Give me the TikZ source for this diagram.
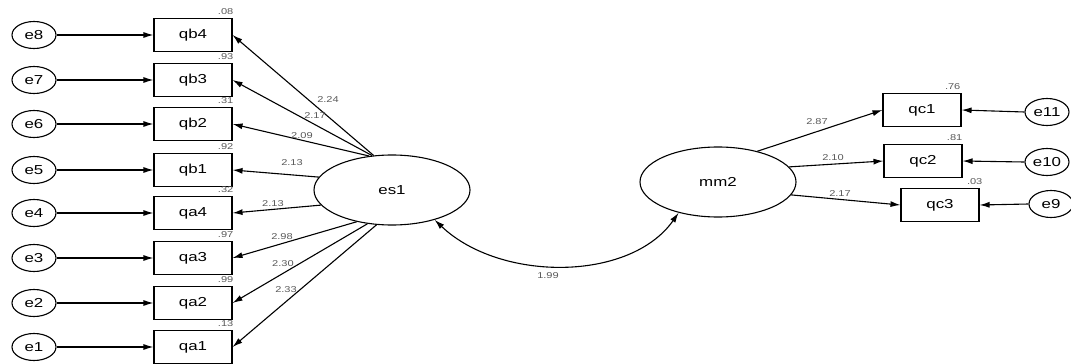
\documentclass[tikz,border=0pt]{standalone}
\usepackage{fontspec}
\setmainfont{Liberation Sans}
\newfontfamily\widesans[FakeStretch=1.3]{Liberation Sans}
\usetikzlibrary{arrows.meta,shapes.geometric}
\begin{document}
\begin{tikzpicture}[x=1pt,y=-1pt,
  obs/.style={draw,line width=1.1pt,minimum width=78pt,minimum height=33pt,inner sep=0pt,font=\widesans\fontsize{13}{15}\selectfont},
  err/.style={draw,ellipse,line width=1.1pt,minimum width=44pt,minimum height=27pt,inner sep=0pt,font=\widesans\fontsize{13}{15}\selectfont},
  lat/.style={draw,ellipse,line width=1.1pt,minimum width=156pt,minimum height=70pt,inner sep=0pt,font=\widesans\fontsize{13}{15}\selectfont},
  arr/.style={line width=1.1pt,-{Latex[length=10pt,width=6pt]}},
  lab/.style={font=\widesans\fontsize{8.5}{10}\selectfont,text=black!65,inner sep=0pt},
  r2/.style={font=\widesans\fontsize{8.5}{10}\selectfont,text=black!65,inner sep=0pt,anchor=south east}]
\useasboundingbox (0,0) rectangle (1071,364);
% left observed
\foreach \n/\y/\e in {qb4/35/e8,qb3/80/e7,qb2/124/e6,qb1/170/e5,qa4/213/e4,qa3/258/e3,qa2/303/e2,qa1/347/e1}{
  \node[obs] (\n) at (193,\y) {\n};
  \node[err] (\e) at (34,\y) {\e};
  \draw[arr] (\e.east) -- (\n.west);
}
% R2 labels left
\node[r2] (rqb4) at ([xshift=1pt,yshift=3pt]qb4.north east) {.08};
\node[r2] (rqb3) at ([xshift=1pt,yshift=3pt]qb3.north east) {.93};
\node[r2] (rqb2) at ([xshift=1pt,yshift=3pt]qb2.north east) {.31};
\node[r2] (rqb1) at ([xshift=1pt,yshift=3pt]qb1.north east) {.92};
\node[r2] (rqa4) at ([xshift=1pt,yshift=3pt]qa4.north east) {.32};
\node[r2] (rqa3) at ([xshift=1pt,yshift=3pt]qa3.north east) {.97};
\node[r2] (rqa2) at ([xshift=1pt,yshift=3pt]qa2.north east) {.99};
\node[r2] (rqa1) at ([xshift=1pt,yshift=3pt]qa1.north east) {.13};
% latent
\node[lat] (es1) at (392,190) {es1};
\node[lat] (mm2) at (718,182) {mm2};
% loadings es1
\draw[arr] (es1.118) -- (qb4.east);
\draw[arr] (es1.120) -- (qb3.east);
\draw[arr] (es1.124) -- (qb2.east);
\draw[arr] (es1.170) -- (qb1.east);
\draw[arr] (es1.192) -- (qa4.east);
\draw[arr] (es1.222) -- (qa3.east);
\draw[arr] (es1.234) -- (qa2.east);
\draw[arr] (es1.246) -- (qa1.east);
\node[lab] (l1) at (328,100) {2.24};
\node[lab] (l2) at (315,116) {2.17};
\node[lab] (l3) at (302,136) {2.09};
\node[lab] (l4) at (292,163) {2.13};
\node[lab] (l5) at (273,204) {2.13};
\node[lab] (l6) at (282,237) {2.98};
\node[lab] (l7) at (283,264) {2.30};
\node[lab] (l8) at (286,290) {2.33};
% right observed
\node[obs] (qc1) at (922,110) {qc1};
\node[obs] (qc2) at (923,161) {qc2};
\node[obs] (qc3) at (940,205) {qc3};
\node[err] (e11) at (1047,112) {e11};
\node[err] (e10) at (1047,162) {e10};
\node[err] (e9) at (1051,204) {e9};
\draw[arr] (e11.west) -- (qc1.east);
\draw[arr] (e10.west) -- (qc2.east);
\draw[arr] (e9.west) -- (qc3.east);
\draw[arr] (mm2.38) -- (qc1.west);
\draw[arr] (mm2.12) -- (qc2.west);
\draw[arr] (mm2.350) -- (qc3.west);
\node[lab] (l9) at (817,122) {2.87};
\node[lab] (l10) at (833,158) {2.10};
\node[lab] (l11) at (840,194) {2.17};
\node[r2] (rqc1) at ([xshift=-1pt,yshift=3pt]qc1.north east) {.76};
\node[r2] (rqc2) at ([xshift=0pt,yshift=3pt]qc2.north east) {.81};
\node[r2] (rqc3) at ([xshift=3pt,yshift=3pt]qc3.north east) {.03};
% covariance
\draw[line width=1.1pt,{Latex[length=10pt,width=6pt]}-{Latex[length=10pt,width=6pt]}] (es1.325) .. controls (500,282) and (630,282) .. (mm2.218);
\node[lab] (l12) at (548,276) {1.99};
\end{tikzpicture}
\end{document}
